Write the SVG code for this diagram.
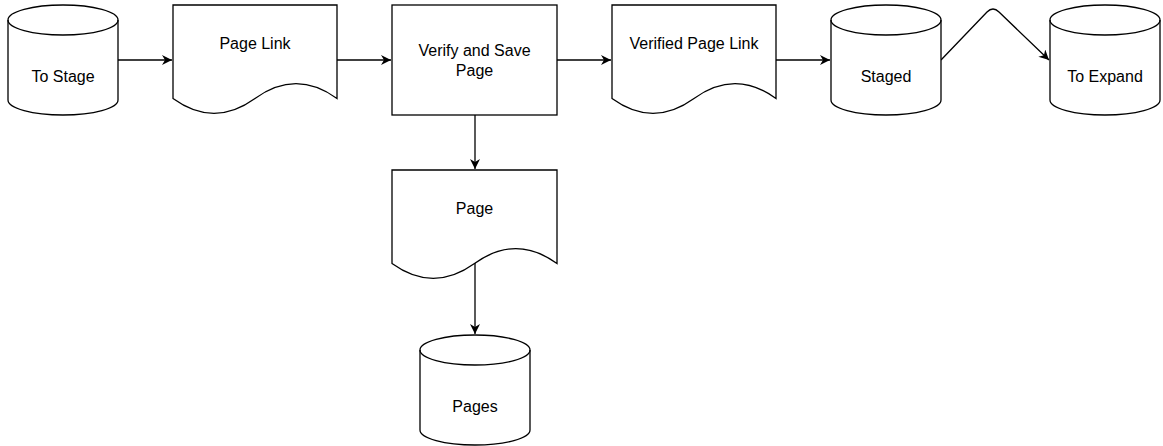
<svg xmlns="http://www.w3.org/2000/svg" width="1163" height="446" viewBox="0 0 1163 446">
<style>
.s{fill:#fff;stroke:#000;stroke-width:1.3}
.t{font-family:"Liberation Sans",Arial,sans-serif;font-size:16px;fill:#000;text-anchor:middle}
.c{fill:none;stroke:#000;stroke-width:1.3}
</style>
<defs>
<marker id="a" markerUnits="userSpaceOnUse" markerWidth="12" markerHeight="12" refX="10" refY="5" orient="auto">
<path d="M0,0 L10,5 L0,10 L3,5 Z" fill="#000"/>
</marker>
</defs>
<rect width="1163" height="446" fill="#fff"/>
<g id="connectors">
<path class="c" d="M118,60 H172" marker-end="url(#a)"/>
<path class="c" d="M337,60 H391" stroke-width="2" marker-end="url(#a)"/>
<path class="c" d="M557,60 H611" marker-end="url(#a)"/>
<path class="c" d="M776,60 H830" marker-end="url(#a)"/>
<path class="c" d="M941,60 L987,12 Q993,6 999,12 L1049,60" marker-end="url(#a)"/>
<path class="c" d="M475,115 V169" marker-end="url(#a)"/>
<path class="c" d="M475,263 V334" marker-end="url(#a)"/>
</g>
<g id="toStage">
<path class="s" d="M8,20 A55,15 0 0 1 118,20 V100 A55,15 0 0 1 8,100 Z"/>
<path class="c" d="M8,20 A55,15 0 0 0 118,20"/>
<text class="t" x="63" y="82">To Stage</text>
</g>
<g id="pageLink">
<path class="s" d="M173,5 H337 V98.5 Q296,68.8 255,98.5 Q214,128.2 173,98.5 Z"/>
<text class="t" x="255" y="49">Page Link</text>
</g>
<g id="verifySave">
<rect class="s" x="392" y="5" width="165" height="110"/>
<text class="t" x="474.5" y="56">Verify and Save</text>
<text class="t" x="474.5" y="76">Page</text>
</g>
<g id="verifiedPageLink">
<path class="s" d="M612,5 H776 V98.5 Q735,68.8 694,98.5 Q653,128.2 612,98.5 Z"/>
<text class="t" x="694" y="49">Verified Page Link</text>
</g>
<g id="staged">
<path class="s" d="M831,20 A55,15 0 0 1 941,20 V100 A55,15 0 0 1 831,100 Z"/>
<path class="c" d="M831,20 A55,15 0 0 0 941,20"/>
<text class="t" x="886" y="82">Staged</text>
</g>
<g id="toExpand">
<path class="s" d="M1050,20 A55,15 0 0 1 1160,20 V100 A55,15 0 0 1 1050,100 Z"/>
<path class="c" d="M1050,20 A55,15 0 0 0 1160,20"/>
<text class="t" x="1105" y="82">To Expand</text>
</g>
<g id="page">
<path class="s" d="M392,170 H557 V263.5 Q515.75,233.8 474.5,263.5 Q433.25,293.2 392,263.5 Z"/>
<text class="t" x="474.5" y="214">Page</text>
</g>
<g id="pages">
<path class="s" d="M420,350 A55,15 0 0 1 530,350 V430 A55,15 0 0 1 420,430 Z"/>
<path class="c" d="M420,350 A55,15 0 0 0 530,350"/>
<text class="t" x="475" y="412">Pages</text>
</g>
</svg>
